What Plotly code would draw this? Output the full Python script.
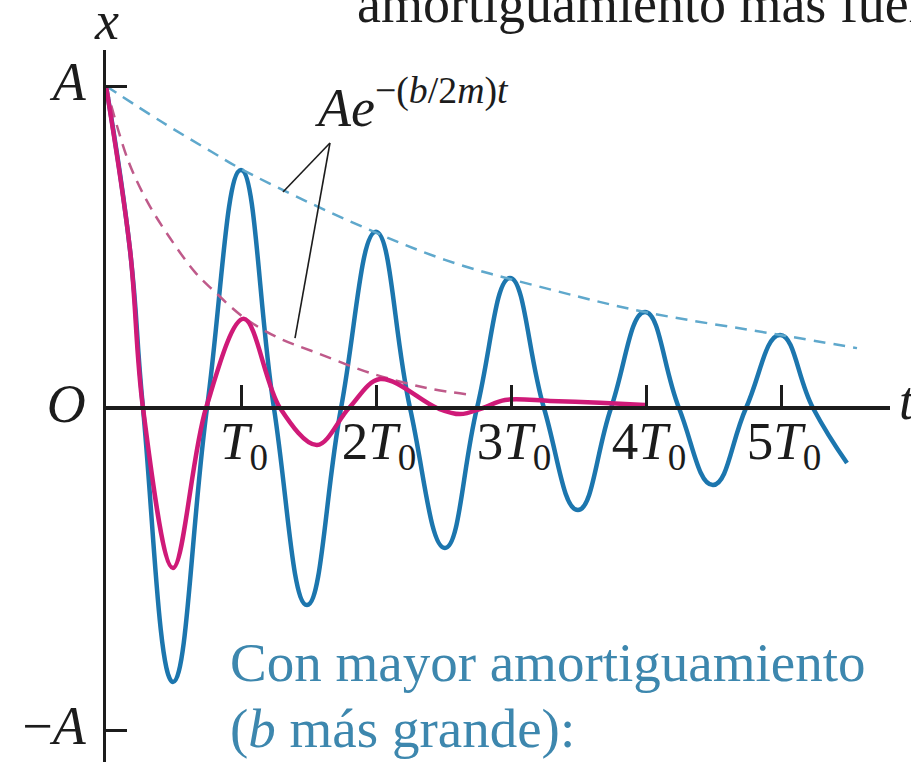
import plotly.graph_objects as go

# ---- data (t in units of T0, x in units of A) ----
blue_t = [0, 0.178, 0.274, 0.496, 0.748, 1.0, 1.244, 1.489, 1.741, 2.0, 2.252, 2.511,
          2.748, 2.993, 3.244, 3.496, 3.741, 3.993, 4.244, 4.496, 4.741, 4.993, 5.237, 5.489]
blue_x = [1.0, 0.49, 0.0, -0.851, 0.0, 0.739, 0.0, -0.612, 0.0, 0.547, 0.0, -0.435,
          0.0, 0.404, 0.0, -0.317, 0.0, 0.298, 0.0, -0.239, 0.0, 0.227, 0.0, -0.171]

mag_t = [0, 0.178, 0.274, 0.496, 0.741, 1.02, 1.289, 1.563, 1.8, 2.03, 2.452, 2.622,
         2.793, 2.956, 3.289, 3.659, 3.993]
mag_x = [1.0, 0.491, 0.0, -0.497, 0.0, 0.277, 0.0, -0.115, 0.0, 0.090, 0.0, -0.019,
         0.0, 0.025, 0.022, 0.016, 0.009]

blue_env_t = [0, 0.415, 0.785, 1.015, 1.785, 2.511, 3.311, 3.993, 4.993, 5.563]
blue_env_x = [1.0, 0.888, 0.795, 0.739, 0.584, 0.460, 0.366, 0.298, 0.227, 0.186]

mag_env_t = [0, 0.163, 0.311, 0.474, 0.659, 0.793, 1.015, 1.267, 1.563, 1.956, 2.378, 2.719]
mag_env_x = [1.0, 0.770, 0.637, 0.528, 0.422, 0.366, 0.283, 0.220, 0.171, 0.109, 0.062, 0.040]

x_tick_vals = [1, 2, 3, 4, 5]
x_tick_text = ["<i>T</i><sub>0</sub>", "2<i>T</i><sub>0</sub>", "3<i>T</i><sub>0</sub>",
               "4<i>T</i><sub>0</sub>", "5<i>T</i><sub>0</sub>"]
y_tick_vals = [-1, 0, 1]
y_tick_text = ["\u2212<i>A</i>", "<i>O</i>", "<i>A</i>"]

# ---- styling ----
W, H = 911, 762
FONT = "Liberation Serif"
BLUE = "#1c76ae"
BLUE_ENV = "#5fa8cc"
MAG = "#cf1a78"
MAG_ENV = "#bf5a8a"
TXT_BLUE = "#3d87ae"
INK = "#1c1c1c"
FS = 54

def px_x(px):
    return px / W

def px_y(py):
    return 1 - py / H

fig = go.Figure()
fig.add_trace(go.Scatter(x=blue_t, y=blue_x, mode="lines", hoverinfo="skip",
                         line=dict(color=BLUE, width=4.5, shape="spline", smoothing=1.3)))
fig.add_trace(go.Scatter(x=blue_env_t, y=blue_env_x, mode="lines", hoverinfo="skip",
                         line=dict(color=BLUE_ENV, width=2.5, dash="12px,8px", shape="spline")))
fig.add_trace(go.Scatter(x=mag_env_t, y=mag_env_x, mode="lines", hoverinfo="skip",
                         line=dict(color=MAG_ENV, width=2.5, dash="12px,8px", shape="spline")))
fig.add_trace(go.Scatter(x=mag_t, y=mag_x, mode="lines", hoverinfo="skip",
                         line=dict(color=MAG, width=4.5, shape="spline", smoothing=1.0)))

# pointer lines from the label to both envelopes
apex = (1.659, 0.823)
for end in [(1.311, 0.671), (1.40, 0.217)]:
    fig.add_shape(type="line", xref="x", yref="y", x0=apex[0], y0=apex[1], x1=end[0], y1=end[1],
                  line=dict(color=INK, width=1.6))

def text(s, px, baseline, size=FS, color=INK, xanchor="left"):
    fig.add_annotation(text=s, xref="paper", yref="paper", x=px_x(px),
                       y=px_y(baseline + 0.216 * size + 1), xanchor=xanchor, yanchor="bottom",
                       showarrow=False, font=dict(family=FONT, size=size, color=color))

text("amortiguamiento más fuerte", 355, 23)
text("<i>x</i>", 106, 40, xanchor="center")
text("<i>t</i>", 897, 420)
text("<i>Ae</i><sup>\u2212(<i>b</i>/2<i>m</i>)<i>t</i></sup>", 313, 127)
text("Con mayor amortiguamiento", 228, 682, size=55, color=TXT_BLUE)
text("(<i>b</i> más grande):", 228, 748, size=55, color=TXT_BLUE)

fig.update_layout(
    width=W, height=H, margin=dict(l=0, r=0, t=0, b=0, autoexpand=False),
    paper_bgcolor="white", plot_bgcolor="white", showlegend=False, hovermode=False,
    xaxis=dict(domain=[106 / W, 890 / W], range=[0, 784 / 135], anchor="free",
               position=(H - 408) / H, showline=True, linecolor=INK, linewidth=4,
               ticks="inside", ticklen=21, tickwidth=3, tickcolor=INK,
               tickvals=x_tick_vals, ticktext=x_tick_text, automargin=False,
               ticklabelstandoff=-15, ticklabelshift=3, ticklabeloverflow="allow",
               tickfont=dict(family=FONT, size=53, color=INK),
               showgrid=False, zeroline=False, fixedrange=True),
    yaxis=dict(domain=[0, (H - 50) / H], range=[(408 - H) / 322, (408 - 50) / 322], anchor="x",
               showline=True, linecolor=INK, linewidth=3.5, automargin=False,
               ticks="inside", ticklen=21, tickwidth=3, tickcolor=INK,
               tickvals=y_tick_vals, ticktext=y_tick_text,
               ticklabelstandoff=6, ticklabelshift=-5, ticklabeloverflow="allow",
               tickfont=dict(family=FONT, size=54, color=INK),
               showgrid=False, zeroline=False, fixedrange=True),
)

fig.write_html("out.html", config={"displayModeBar": False, "staticPlot": True},
               post_script="document.body.style.margin='0';")
